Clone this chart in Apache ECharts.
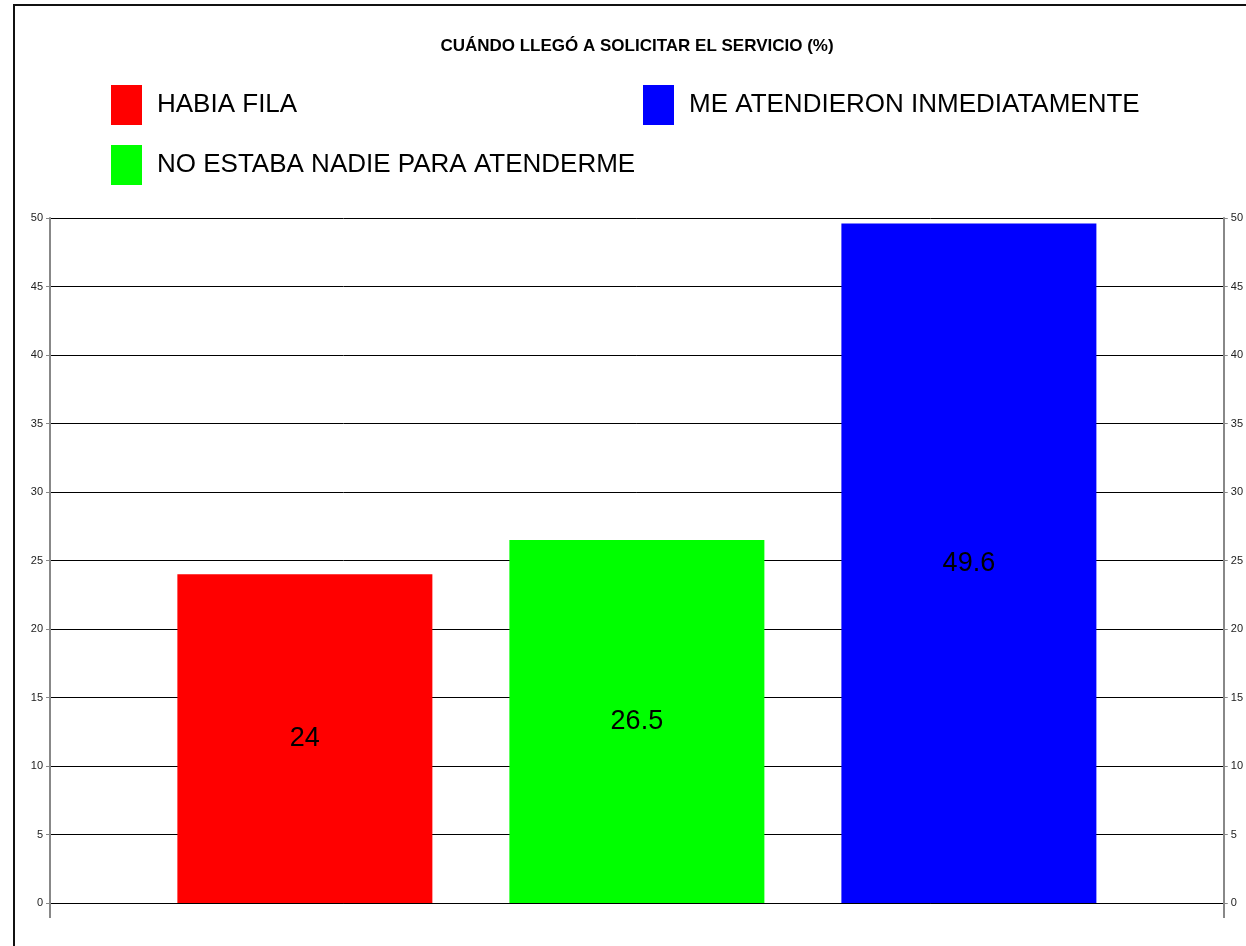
<!DOCTYPE html>
<html>
<head>
<meta charset="utf-8">
<script src="https://cdn.jsdelivr.net/npm/echarts@6/dist/echarts.min.js"></script>
<style>
  html, body { margin: 0; padding: 0; background: #fff; }
  #chart { position: absolute; left: 0; top: 0; width: 1246px; height: 946px; }
  #frame { position: absolute; left: 13px; top: 4px; width: 1260px; height: 960px;
           border-left: 2px solid #111; border-top: 2px solid #111; pointer-events: none; }
</style>
</head>
<body>
<div id="chart"></div>
<div id="frame"></div>
<script>
const titleText = 'CUÁNDO LLEGÓ A SOLICITAR EL SERVICIO (%)';
const categories = [''];
const seriesNames = ['HABIA FILA', 'NO ESTABA NADIE PARA ATENDERME', 'ME ATENDIERON INMEDIATAMENTE'];
const seriesValues = [24, 26.5, 49.6];
const seriesColors = ['#ff0000', '#00ff00', '#0000ff'];
const yMin = 0, yMax = 50, yStep = 5;

const FONT = '"Liberation Sans", Arial, sans-serif';

const chart = echarts.init(document.getElementById('chart'));

const series = seriesNames.map((name, i) => ({
  name: name,
  type: 'bar',
  yAxisIndex: 0,
  data: [seriesValues[i]],
  barWidth: 255,
  barGap: '30.2%',
  itemStyle: { color: seriesColors[i] },
  label: {
    show: true,
    position: 'inside',
    color: '#000',
    fontFamily: FONT,
    fontSize: 27,
    formatter: p => String(p.value)
  }
}));

const axisCommon = {
  type: 'value',
  min: yMin, max: yMax, interval: yStep,
  axisLine: { show: true, lineStyle: { color: '#888', width: 2 } },
  axisTick: { show: true, length: 4, lineStyle: { color: '#888', width: 1 } },
  axisLabel: { color: '#222', fontFamily: FONT, fontSize: 11, margin: 7 }
};

const legendCommon = {
  orient: 'vertical',
  top: 85,
  padding: 0,
  itemWidth: 31, itemHeight: 40, itemGap: 20,
  icon: 'rect',
  textStyle: { fontFamily: FONT, fontSize: 26, color: '#000', padding: [2, 0, 0, 10] }
};

chart.setOption({
  animation: false,
  backgroundColor: 'transparent',
  title: {
    text: titleText,
    left: 637, top: 38, textAlign: 'center', padding: 0,
    textStyle: { fontFamily: FONT, fontWeight: 'bold', fontSize: 17, color: '#000' }
  },
  legend: [
    Object.assign({}, legendCommon, { data: [seriesNames[0], seriesNames[1]], left: 111 }),
    Object.assign({}, legendCommon, { data: [seriesNames[2]], left: 643 })
  ],
  grid: { left: 50, right: 22, top: 218, bottom: 43, containLabel: false },
  xAxis: {
    type: 'category',
    data: categories,
    boundaryGap: true,
    axisLine: { show: true, lineStyle: { color: '#000', width: 1 } },
    axisTick: { show: true, length: 15, lineStyle: { color: '#888', width: 2 } },
    axisLabel: { show: false },
    splitLine: { show: false }
  },
  yAxis: [
    Object.assign({}, axisCommon, {
      position: 'left',
      splitLine: { show: true, lineStyle: { color: '#000', width: 1 } }
    }),
    Object.assign({}, axisCommon, {
      position: 'right',
      splitLine: { show: false }
    })
  ],
  series: series
});
</script>
</body>
</html>
